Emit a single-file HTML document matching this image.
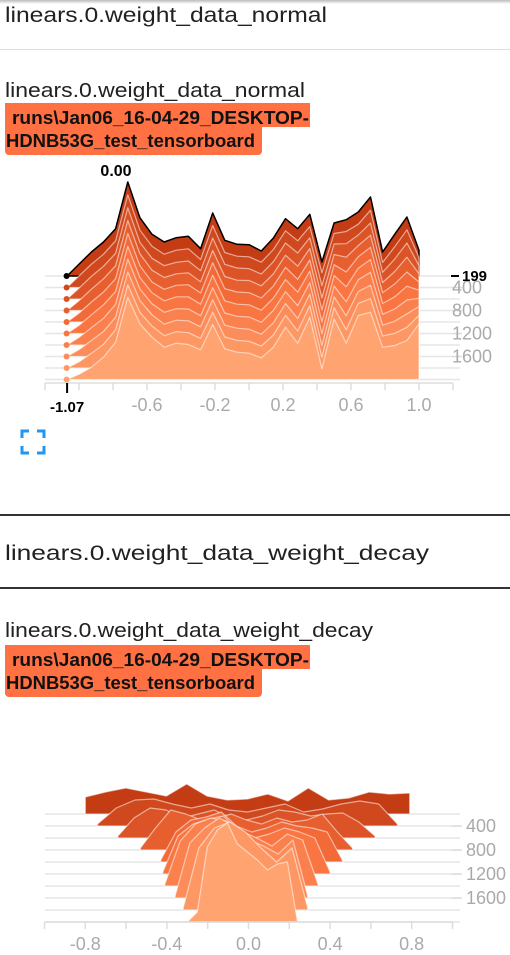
<!DOCTYPE html>
<html><head><meta charset="utf-8">
<style>
html,body{margin:0;padding:0;background:#fff;width:510px;height:955px;overflow:hidden;font-family:"Liberation Sans",sans-serif;}
svg{position:absolute;left:0;top:0}
</style></head>
<body>
<svg id="s" width="510" height="955" viewBox="0 0 510 955">
  <defs>
    <linearGradient id="sh" x1="0" y1="0" x2="0" y2="1"><stop offset="0" stop-color="#bbb"/><stop offset="1" stop-color="#fff"/></linearGradient>
  </defs>
  <rect x="0" y="0" width="510" height="4" fill="url(#sh)"/>
  <text x="5" y="22" font-size="21" textLength="322" lengthAdjust="spacingAndGlyphs" fill="#212121">linears.0.weight_data_normal</text>
  <rect x="0" y="49" width="510" height="1" fill="#ddd"/>
  <text x="5" y="97" font-size="20" textLength="300" lengthAdjust="spacingAndGlyphs" fill="#212121">linears.0.weight_data_normal</text>
  <path d="M5,103 H310 V127 H262 V151 a4,4 0 0 1 -4,4 H9 a4,4 0 0 1 -4,-4 Z" fill="#ff7043"/>
  <text x="12" y="124" font-size="18" font-weight="bold" textLength="297" lengthAdjust="spacingAndGlyphs" fill="#111">runs\Jan06_16-04-29_DESKTOP-</text>
  <text x="6" y="147" font-size="18" font-weight="bold" textLength="249" lengthAdjust="spacingAndGlyphs" fill="#111">HDNB53G_test_tensorboard</text>
  <g id="c1"></g>
  <g fill="none" stroke="#2196f3" stroke-width="3">
    <path d="M22,438 V431 H29 M37,431 H44 V438 M44,446 V453 H37 M29,453 H22 V446"/>
  </g>
  <rect x="0" y="514" width="510" height="2" fill="#333"/>
  <text x="5" y="560" font-size="21" textLength="424" lengthAdjust="spacingAndGlyphs" fill="#212121">linears.0.weight_data_weight_decay</text>
  <rect x="0" y="587" width="510" height="2" fill="#333"/>
  <text x="5" y="637" font-size="20" textLength="368" lengthAdjust="spacingAndGlyphs" fill="#212121">linears.0.weight_data_weight_decay</text>
  <path d="M5,645 H310 V669 H262 V693 a4,4 0 0 1 -4,4 H9 a4,4 0 0 1 -4,-4 Z" fill="#ff7043"/>
  <text x="12" y="666" font-size="18" font-weight="bold" textLength="297" lengthAdjust="spacingAndGlyphs" fill="#111">runs\Jan06_16-04-29_DESKTOP-</text>
  <text x="6" y="689" font-size="18" font-weight="bold" textLength="249" lengthAdjust="spacingAndGlyphs" fill="#111">HDNB53G_test_tensorboard</text>
  <g id="c2"></g>
</svg>
<script>
// ---- chart 1 data ----
const steps1 = [199,399,599,799,999,1199,1399,1599,1799,1999];
const xMin1 = -1.07, xMax1 = 1.0;
const c1s0=[0,36,72,102,142,282,175,125,102,115,119,82,189,107,95,94,75,114,172,142,185,42,159,169,192,237,72,125,177,77];
const c1s1=[0,35,70,100,140,278,172,124,100,112,116,84,186,105,94,92,76,114,170,140,183,44,162,168,190,232,75,122,173,90];
const c1s2=[0,33,68,98,137,274,170,122,100,110,114,85,183,104,93,91,75,112,168,138,184,40,165,166,192,228,80,120,168,100];
const c1s3=[0,30,64,95,134,270,170,121,99,110,113,86,180,102,91,90,74,110,166,133,186,38,168,160,195,226,84,117,160,110];
const c1s4=[0,27,60,90,130,266,169,120,98,110,112,87,178,100,90,88,72,108,164,128,186,36,172,150,196,224,88,114,150,120];
const c1s5=[0,25,56,86,126,262,168,122,98,110,110,88,175,98,88,86,70,106,162,124,187,35,174,140,196,222,90,110,142,130];
const c1s6=[0,23,52,80,122,258,168,124,98,109,108,88,172,96,86,84,68,104,160,118,187,34,177,130,196,218,92,108,135,140];
const c1s7=[0,21,48,75,118,254,168,125,97,109,107,89,170,94,85,82,67,101,159,114,187,33,179,122,195,214,94,106,128,150];
const c1s8=[0,19,44,71,115,250,167,126,97,109,106,89,167,93,83,80,66,99,158,111,187,32,181,115,194,208,96,104,122,158];
const c1s9=[0,16,37,67,112,247,167,127,97,109,105,89,165,92,82,79,65,97,157,109,187,32,182,109,192,202,97,102,117,167];
const series1=[c1s0,c1s1,c1s2,c1s3,c1s4,c1s5,c1s6,c1s7,c1s8,c1s9];
const xTicks1=[-0.6,-0.2,0.2,0.6,1.0];
const xTickLabels1=["-0.6","-0.2","0.2","0.6","1.0"];
const yTicks1=[400,800,1200,1600];

// ---- chart 2 data ----
const steps2 = [199,399,599,799,999,1199,1399,1599,1799,1999];
const ranges2=[[-0.80,0.79],[-0.74,0.73],[-0.64,0.62],[-0.53,0.51],[-0.43,0.46],[-0.42,0.40],[-0.41,0.34],[-0.36,0.29],[-0.32,0.29],[-0.30,0.24]];
const c2s0=[17,22,26,22,18,30,18,14,15,20,13,26,14,16,22,20,21];
const c2s1=[2,18,26,27,22,18,22,16,14,18,22,14,17,22,25,22,2];
const c2s2=[2,20,30,28,20,24,28,20,18,22,28,26,22,24,25,16,2];
const c2s3=[2,22,40,36,30,32,36,30,26,32,28,30,36,18,2];
const c2s4=[2,30,42,45,50,36,30,34,40,36,34,30,2];
const c2s5=[2,38,50,55,58,42,36,40,46,42,36,2];
const c2s6=[2,45,62,68,65,55,48,40,52,46,2];
const c2s7=[2,55,70,80,72,58,52,44,58,2];
const c2s8=[2,62,82,88,78,62,48,62,2];
const c2s9=[0,10,75,92,99,78,70,62,52,58,60,0];
const series2=[c2s0,c2s1,c2s2,c2s3,c2s4,c2s5,c2s6,c2s7,c2s8,c2s9];
const xTicks2=[-0.8,-0.4,0.0,0.4,0.8];
const xTickLabels2=["-0.8","-0.4","0.0","0.4","0.8"];
const yTicks2=[400,800,1200,1600];

const NS="http://www.w3.org/2000/svg";
function mk(tag,attrs,parent){const e=document.createElementNS(NS,tag);for(const k in attrs)e.setAttribute(k,attrs[k]);parent.appendChild(e);return e;}
function col(t){const a=[196,60,20],b=[248,112,60],c=[255,163,112];let p,q,u;if(t<0.5){p=a;q=b;u=t/0.5;}else{p=b;q=c;u=(t-0.5)/0.5;}return `rgb(${p.map((v,i)=>Math.round(v+(q[i]-v)*u)).join(',')})`;}

// chart 1
(function(){
  const g=document.getElementById('c1');
  const X=v=>249+170*v;
  const Yb=s=>276+(s-199)*0.0575;
  const maxV=282, hMax=94;
  const H=v=>v/maxV*hMax;
  steps1.forEach(s=>{const l=mk('line',{x1:45,x2:460,y1:Yb(s),y2:Yb(s),stroke:'#e6e6e6','stroke-width':1.5},g);
    
    });
  series1.forEach((arr,k)=>{
    const n=arr.length;const b=Yb(steps1[k]);
    let d=`M${X(xMin1)},${b}`;
    arr.forEach((v,i)=>{const x=X(xMin1+(xMax1-xMin1)*i/(n-1));d+=` L${x.toFixed(1)},${(b-H(v)).toFixed(1)}`;});
    d+=` L${X(xMax1)},${b} Z`;
    const p=mk('path',{d:d,fill:col(k/9),stroke:k===0?'#000':'rgba(255,255,255,0.55)','stroke-width':k===0?1.5:1.2,'stroke-linejoin':'round'},g);
    
    
    const c=mk('circle',{cx:X(xMin1)-0.5,cy:b,r:3,fill:k===0?'#000':col(k/9)},g);
    
    
  });
  const ax=mk('line',{x1:45,x2:453,y1:383,y2:383,stroke:'#ddd','stroke-width':1.5},g);
  
  
  for(let v=-1.2;v<=1.21;v+=0.2){const t=mk('line',{x1:X(v),x2:X(v),y1:383,y2:390,stroke:'#ddd','stroke-width':1.5},g);
    
    }
  xTicks1.forEach((v,i)=>{const t=mk('text',{x:X(v),y:411,'font-size':18,fill:'#aaa','text-anchor':'middle'},g);t.textContent=xTickLabels1[i];
    
    });
  yTicks1.forEach(s=>{const y=Yb(s);mk('line',{x1:452,x2:462,y1:y,y2:y,stroke:'#ddd','stroke-width':1.5},g);
    const t=mk('text',{x:452,y:y+6,'font-size':18,fill:'#aaa'},g);t.textContent=String(s);
    
    });
  const wb=mk('rect',{x:450,y:266,width:60,height:14,fill:'#fff'},g);
  
  
  mk('line',{x1:451,x2:459,y1:Yb(199),y2:Yb(199),stroke:'#000','stroke-width':2},g);
  const sl=mk('text',{x:462,y:Yb(199)+5,'font-size':15,'font-weight':'bold',fill:'#000'},g);sl.textContent=String(steps1[0]);
  
  
  mk('line',{x1:X(xMin1),x2:X(xMin1),y1:383,y2:393,stroke:'#000','stroke-width':2},g);
  const xl=mk('text',{x:X(xMin1),y:412,'font-size':15,'font-weight':'bold',fill:'#000','text-anchor':'middle'},g);xl.textContent=xMin1.toFixed(2);
  
  
  const vl=mk('text',{x:116,y:176,'font-size':16,'font-weight':'bold',fill:'#000','text-anchor':'middle'},g);vl.textContent="0.00";
  
  
})();

// chart 2
(function(){
  const g=document.getElementById('c2');
  const X=v=>248.5+204*v;
  const Yb=s=>814+(s-199)*0.06;
  steps2.forEach(s=>{const l=mk('line',{x1:45,x2:460,y1:Yb(s),y2:Yb(s),stroke:'#e6e6e6','stroke-width':1.5},g);
    
    });
  series2.forEach((arr,k)=>{
    const n=arr.length,b=Yb(steps2[k]),r=ranges2[k];
    let d=`M${X(r[0]).toFixed(1)},${b}`;
    arr.forEach((v,i)=>{const x=X(r[0]+(r[1]-r[0])*i/(n-1));d+=` L${x.toFixed(1)},${(b-v).toFixed(1)}`;});
    d+=` L${X(r[1]).toFixed(1)},${b} Z`;
    const p=mk('path',{d:d,fill:col(k/9),stroke:'rgba(255,255,255,0.55)','stroke-width':1.2,'stroke-linejoin':'round'},g);
    
    
  });
  const ax=mk('line',{x1:45,x2:453,y1:922,y2:922,stroke:'#ddd','stroke-width':1.5},g);
  
  
  for(let v=-1.0;v<=1.01;v+=0.2){const t=mk('line',{x1:X(v),x2:X(v),y1:922,y2:929,stroke:'#ddd','stroke-width':1.5},g);
    
    }
  xTicks2.forEach((v,i)=>{const t=mk('text',{x:X(v),y:950,'font-size':18,fill:'#aaa','text-anchor':'middle'},g);t.textContent=xTickLabels2[i];
    
    });
  yTicks2.forEach(s=>{const y=Yb(s);mk('line',{x1:452,x2:462,y1:y,y2:y,stroke:'#ddd','stroke-width':1.5},g);
    const t=mk('text',{x:466,y:y+6,'font-size':18,fill:'#aaa'},g);t.textContent=String(s);
    
    });
})();
</script>
</body></html>
